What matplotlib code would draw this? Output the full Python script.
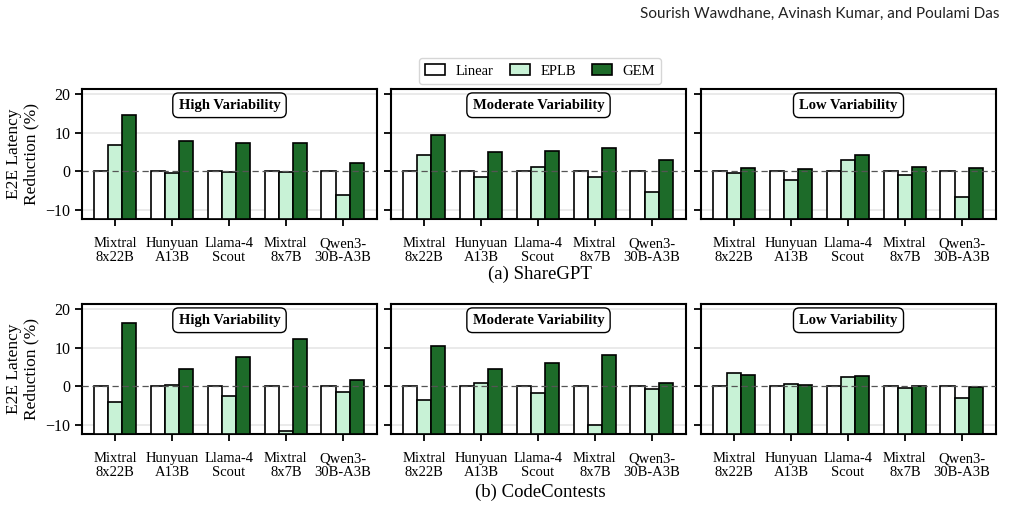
import numpy as np
import matplotlib
matplotlib.use("Agg")
import matplotlib.pyplot as plt
from matplotlib.patches import Patch

plt.rcParams['font.family'] = ['Liberation Serif', 'DejaVu Serif']

models = ["Mixtral\n8x22B", "Hunyuan\nA13B", "Llama-4\nScout", "Mixtral\n8x7B", "Qwen3-\n30B-A3B"]
panels = ["High Variability", "Moderate Variability", "Low Variability"]
methods = ["Linear", "EPLB", "GEM"]

# ShareGPT (row a)
share_linear = [0, 0, 0, 0, 0]
share_eplb_high = [6.8, -0.5, -0.1, -0.2, -6.2]
share_gem_high = [14.6, 7.8, 7.4, 7.3, 2.1]
share_eplb_mod = [4.2, -1.4, 1.2, -1.5, -5.2]
share_gem_mod = [9.3, 5.0, 5.4, 6.1, 2.9]
share_eplb_low = [-0.4, -2.1, 2.9, -0.8, -6.7]
share_gem_low = [1.0, 0.5, 4.3, 1.2, 0.9]

# CodeContests (row b)
code_linear = [0, 0, 0, 0, 0]
code_eplb_high = [-3.9, 0.3, -2.5, -11.4, -1.4]
code_gem_high = [16.4, 4.4, 7.7, 12.2, 1.6]
code_eplb_mod = [-3.4, 0.9, -1.8, -9.9, -0.6]
code_gem_mod = [10.4, 4.6, 6.0, 8.2, 1.0]
code_eplb_low = [3.4, 0.6, 2.5, -0.4, -2.9]
code_gem_low = [3.0, 0.4, 2.8, 0.2, -0.2]

rows = [
    [(share_linear, share_eplb_high, share_gem_high),
     (share_linear, share_eplb_mod, share_gem_mod),
     (share_linear, share_eplb_low, share_gem_low)],
    [(code_linear, code_eplb_high, code_gem_high),
     (code_linear, code_eplb_mod, code_gem_mod),
     (code_linear, code_eplb_low, code_gem_low)],
]
captions = ["(a) ShareGPT", "(b) CodeContests"]
colors = ["white", "#c8f2d6", "#1d6b29"]

fig = plt.figure(figsize=(10.12, 5.08), dpi=100)
W, H = 1012, 508
lefts = [82, 391, 701]
aw = 295
tops = [89, 304]
ah = 130

x = np.arange(len(models))
w = 0.25
ymin, ymax = -12.3, 21.3
for r in range(2):
    for c in range(3):
        ax = fig.add_axes([lefts[c] / W, 1 - (tops[r] + ah) / H, aw / W, ah / H])
        for k, vals in enumerate(rows[r][c]):
            vals = np.array(vals, dtype=float)
            # bars grow from the bottom of the axes
            ax.bar(x + (k - 1) * w, vals - ymin, w, bottom=ymin, color=colors[k],
                   edgecolor="black", linewidth=1.2, zorder=3)
        ax.set_ylim(ymin, ymax)
        ax.set_xlim(-0.58, 4.6)
        ax.set_yticks([-10, 0, 10, 20])
        ax.set_xticks(x)
        ax.set_xticklabels(models, fontsize=10.5, linespacing=1.05)
        for yv in [-10, 10, 20]:
            ax.axhline(yv, color="#e6e6e6", lw=1.2, zorder=0)
        ax.axhline(0, color="#555555", lw=0.9, ls=(0, (5, 3)), zorder=4)
        ax.tick_params(axis="both", direction="out", length=5, width=1.3, labelsize=11.5)
        ax.tick_params(axis="x", labelsize=10.5, pad=8)
        for s in ax.spines.values():
            s.set_linewidth(1.5)
        if c == 0:
            ax.set_ylabel("E2E Latency\nReduction (%)", fontsize=12.5, linespacing=1.15)
        else:
            ax.set_yticklabels([])
        ax.text(0.5, 0.875, panels[c], transform=ax.transAxes, ha="center", va="center",
                fontsize=10.5, fontweight="bold", zorder=5,
                bbox=dict(boxstyle="round,pad=0.4", fc="white", ec="black", lw=1.0))
    fig.text(540 / W, 1 - (274 if r == 0 else 492) / H, captions[r], ha="center",
             va="center", fontsize=13.5)

handles = [Patch(facecolor=colors[k], edgecolor="black", linewidth=1.2) for k in range(3)]
fig.legend(handles, methods, loc="center", bbox_to_anchor=(540 / W, 1 - 71 / H), ncol=3,
           fontsize=10.5, frameon=True, fancybox=True, edgecolor="#cccccc",
           handlelength=1.4, handleheight=0.75, handletextpad=0.7,
           columnspacing=1.1, borderpad=0.4)

fig.text(1000 / W, 1 - 14 / H, "Sourish Wawdhane, Avinash Kumar, and Poulami Das",
         ha="right", va="center", fontsize=11, family=["Lato", "DejaVu Sans"], color="#222222")

fig.savefig("out.png", dpi=100)
